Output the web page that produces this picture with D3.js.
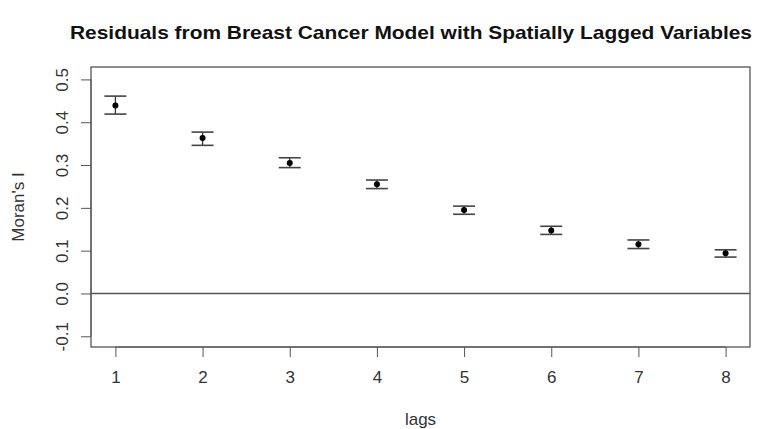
<!DOCTYPE html>
<html>
<head>
<meta charset="utf-8">
<script src="https://d3js.org/d3.v7.min.js"></script>
<style>
  body { margin: 0; background: #fff; }
  text { font-family: "Liberation Sans", Arial, sans-serif; fill: #222; }
</style>
</head>
<body>
<div id="chart"></div>
<script>
// values
const lags = [1, 2, 3, 4, 5, 6, 7, 8];
const moran = [0.439, 0.363, 0.305, 0.255, 0.195, 0.147, 0.115, 0.094];
const upper = [0.461, 0.377, 0.317, 0.265, 0.204, 0.157, 0.125, 0.102];
const lower = [0.419, 0.346, 0.294, 0.245, 0.185, 0.138, 0.105, 0.085];
const yTicks = [-0.1, 0.0, 0.1, 0.2, 0.3, 0.4, 0.5];

const width = 770, height = 429;
const box = {left: 91, right: 750, top: 67, bottom: 347};

const svg = d3.select("#chart")
    .append("svg")
    .attr("width", width)
    .attr("height", height);

const x = d3.scaleLinear()
    .domain([0.72, 8.28])
    .range([box.left, box.right]);

const y = d3.scaleLinear()
    .domain([-0.125, 0.529])
    .range([box.bottom, box.top]);

// title
svg.append("text")
    .attr("x", 411)
    .attr("y", 39)
    .attr("text-anchor", "middle")
    .attr("textLength", 682)
    .attr("lengthAdjust", "spacingAndGlyphs")
    .style("font-size", "19px")
    .style("font-weight", "bold")
    .style("fill", "#111")
    .text("Residuals from Breast Cancer Model with Spatially Lagged Variables");

// x axis
const xAxis = svg.append("g")
    .attr("transform", `translate(0,${box.bottom})`)
    .call(d3.axisBottom(x).tickValues(lags).tickSize(10).tickPadding(14).tickFormat(d3.format("d")));
xAxis.select(".domain")
    .attr("d", `M${x(1)},0H${x(8)}`);

// y axis
const yAxis = svg.append("g")
    .attr("transform", `translate(${box.left},0)`)
    .call(d3.axisLeft(y).tickValues(yTicks).tickSize(10).tickFormat(d => d.toFixed(1)));
yAxis.select(".domain")
    .attr("d", `M0,${y(-0.1)}V${y(0.5)}`);
yAxis.selectAll(".tick text")
    .attr("transform", "rotate(-90)")
    .attr("x", 0)
    .attr("y", -23)
    .attr("dy", 0)
    .attr("text-anchor", "middle");

svg.selectAll(".tick line, .domain").attr("stroke", "#555");
svg.selectAll(".tick text").style("font-size", "17px").style("fill", "#333");

// plot box
svg.append("rect")
    .attr("x", box.left)
    .attr("y", box.top)
    .attr("width", box.right - box.left)
    .attr("height", box.bottom - box.top)
    .attr("fill", "none")
    .attr("stroke", "#555")
    .attr("stroke-width", 1.3);

// zero line
svg.append("line")
    .attr("x1", box.left)
    .attr("x2", box.right)
    .attr("y1", y(0))
    .attr("y2", y(0))
    .attr("stroke", "#555")
    .attr("stroke-width", 1.3);

// error bars
const bars = svg.append("g");
lags.forEach((lag, i) => {
    const cx = x(lag);
    bars.append("line")
        .attr("x1", cx).attr("x2", cx)
        .attr("y1", y(lower[i])).attr("y2", y(upper[i]))
        .attr("stroke", "#333").attr("stroke-width", 1.3);
    [lower[i], upper[i]].forEach(v => {
        bars.append("line")
            .attr("x1", cx - 11).attr("x2", cx + 11)
            .attr("y1", y(v)).attr("y2", y(v))
            .attr("stroke", "#444").attr("stroke-width", 1.6);
    });
});

// points
svg.append("g")
    .selectAll("circle")
    .data(lags)
    .join("circle")
    .attr("cx", d => x(d))
    .attr("cy", (d, i) => y(moran[i]))
    .attr("r", 3)
    .attr("fill", "#000");

// axis titles
svg.append("text")
    .attr("x", (box.left + box.right) / 2)
    .attr("y", 425)
    .attr("text-anchor", "middle")
    .style("font-size", "17px")
    .style("fill", "#333")
    .text("lags");

svg.append("text")
    .attr("transform", `translate(24,${(box.top + box.bottom) / 2}) rotate(-90)`)
    .attr("text-anchor", "middle")
    .style("font-size", "17px")
    .style("fill", "#333")
    .text("Moran's I");
</script>
</body>
</html>
